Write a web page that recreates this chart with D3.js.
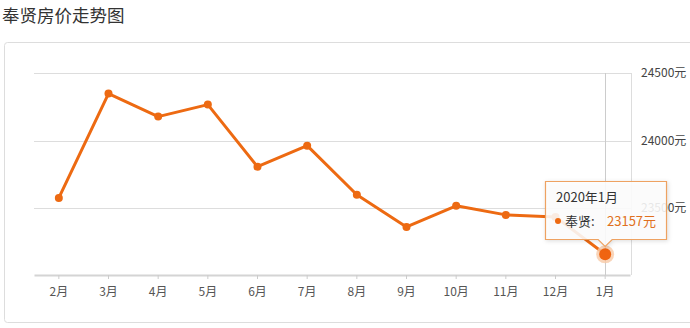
<!DOCTYPE html>
<html>
<head>
<meta charset="utf-8">
<script src="https://d3js.org/d3.v7.min.js"></script>
<style>
  body{ margin:0; background:#fff; font-family:"Noto Sans CJK SC","Noto Sans",sans-serif; }
  svg text{ font-family:"Noto Sans CJK SC","Noto Sans",sans-serif; }
</style>
</head>
<body>
<svg id="chart" width="690" height="328"></svg>
<script>
  var months = ["2月","3月","4月","5月","6月","7月","8月","9月","10月","11月","12月","1月"];
  var prices = [23575, 24348, 24177, 24266, 23806, 23962, 23598, 23360, 23516, 23449, 23434, 23157];
  var yTicks = [23500, 24000, 24500];
  var tipTitle = "2020年1月";
  var seriesName = "奉贤";

  var orange = "#ed6a12";
  var svg = d3.select("#chart");

  //title + outer frame
  svg.append("text")
    .attr("x", 2).attr("y", 22)
    .style("font-size", "17.5px").style("fill", "#333")
    .text("奉贤房价走势图");

  svg.append("rect")
    .attr("x", 4.5).attr("y", 42.5)
    .attr("width", 700).attr("height", 280)
    .attr("rx", 3)
    .style("fill", "none").style("stroke", "#ddd");

  var x = d3.scaleBand().domain(months).range([34, 630]);
  var y = d3.scaleLinear().domain([23000, 24500]).range([275.5, 73]);

  //grid
  svg.append("g").selectAll("line")
    .data(yTicks).enter().append("line")
    .attr("x1", 34).attr("x2", 631)
    .attr("y1", function(d){ return Math.round(y(d))+0.5; })
    .attr("y2", function(d){ return Math.round(y(d))+0.5; })
    .style("stroke", "#ddd");

  svg.append("line")
    .attr("x1", 631.5).attr("x2", 631.5)
    .attr("y1", 73).attr("y2", 275)
    .style("stroke", "#ddd");

  //x axis
  var xAxis = svg.append("g")
    .attr("transform", "translate(0,275)")
    .call(d3.axisBottom(x).tickSize(4).tickSizeOuter(0));
  xAxis.select(".domain").style("stroke", "#d4d4d4").style("stroke-width", 2);
  xAxis.selectAll(".tick line").style("stroke", "#ccc");
  xAxis.selectAll(".tick text")
    .attr("y", 12)
    .style("font-size", "12px").style("fill", "#555");

  //y labels on the right
  svg.append("g").selectAll("text")
    .data(yTicks).enter().append("text")
    .attr("x", 641)
    .attr("y", function(d){ return y(d)+4; })
    .style("font-size", "12px").style("fill", "#444")
    .text(function(d){ return d+"元"; });

  //crosshair for last point
  var last = months.length-1;
  var cx = x(months[last]) + x.bandwidth()/2;
  svg.append("line")
    .attr("x1", Math.round(cx)+0.5).attr("x2", Math.round(cx)+0.5)
    .attr("y1", 73).attr("y2", 275)
    .style("stroke", "#ccc");

  //line + points
  var line = d3.line()
    .x(function(d,i){ return x(months[i]) + x.bandwidth()/2; })
    .y(function(d){ return y(d); });

  svg.append("path")
    .datum(prices)
    .attr("d", line)
    .style("fill", "none").style("stroke", orange)
    .style("stroke-width", 3).style("stroke-linejoin", "round");

  svg.append("g").selectAll("circle")
    .data(prices).enter().append("circle")
    .attr("cx", function(d,i){ return x(months[i]) + x.bandwidth()/2; })
    .attr("cy", function(d){ return y(d); })
    .attr("r", 4)
    .style("fill", orange);

  //highlighted point
  svg.append("circle")
    .attr("cx", cx).attr("cy", y(prices[last]))
    .attr("r", 9).style("fill", "#f8c9a6").style("opacity", 0.8);
  svg.append("circle")
    .attr("cx", cx).attr("cy", y(prices[last]))
    .attr("r", 6).style("fill", "#f06410");

  //tooltip
  var tip = svg.append("g");
  var tx = 545.5, ty = 181.5, tw = 121, th = 58;
  tip.append("path")
    .attr("d", "M"+tx+","+ty+"h"+tw+"v"+th+"H"+(cx+7)+"l-7,7l-7,-7H"+tx+"Z")
    .style("fill", "rgba(255,255,255,0.88)")
    .style("stroke", "#eea261").style("stroke-width", 1.2)
    .style("filter", "drop-shadow(1px 1px 2px rgba(0,0,0,0.15))");
  tip.append("text")
    .attr("x", 556).attr("y", 202)
    .style("font-size", "13px").style("fill", "#333")
    .text(tipTitle);
  tip.append("circle")
    .attr("cx", 558).attr("cy", 221).attr("r", 3)
    .style("fill", orange);
  tip.append("text")
    .attr("x", 565).attr("y", 226)
    .style("font-size", "13px").style("fill", "#333")
    .text(seriesName+":");
  tip.append("text")
    .attr("x", 607).attr("y", 226)
    .style("font-size", "13px").style("fill", "#e07020")
    .text(prices[last]+"元");
</script>
</body>
</html>
